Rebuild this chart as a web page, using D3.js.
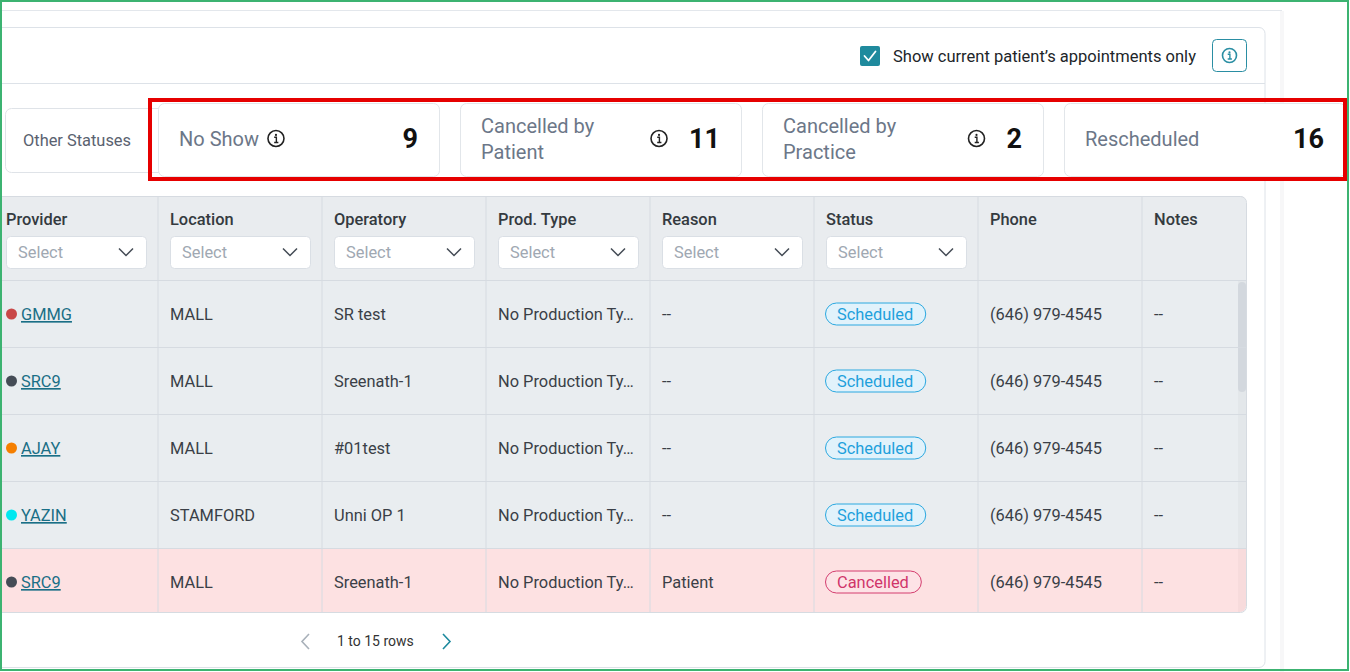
<!DOCTYPE html>
<html>
<head>
<meta charset="utf-8">
<script src="https://cdn.jsdelivr.net/npm/d3@7"></script>
<style>
  html, body { margin: 0; padding: 0; background: #fff; }
  svg { display: block; font-family: Roboto, "Noto Sans", sans-serif; }
</style>
</head>
<body>
<svg id="chart"></svg>
<script>
// status summary cards
const statusLabels = [["No Show"], ["Cancelled by", "Patient"], ["Cancelled by", "Practice"], ["Rescheduled"]];
const statusCounts = [9, 11, 2, 16];
const statusHasInfo = [true, true, true, false];

// table
const columns = ["Provider", "Location", "Operatory", "Prod. Type", "Reason", "Status", "Phone", "Notes"];
const hasFilter = [true, true, true, true, true, true, false, false];
const providers = ["GMMG", "SRC9", "AJAY", "YAZIN", "SRC9"];
const providerColors = ["#c94848", "#454c56", "#f57f00", "#00e8f0", "#454c56"];
const locations = ["MALL", "MALL", "MALL", "STAMFORD", "MALL"];
const operatories = ["SR test", "Sreenath-1", "#01test", "Unni OP 1", "Sreenath-1"];
const prodTypes = ["No Production Ty…", "No Production Ty…", "No Production Ty…", "No Production Ty…", "No Production Ty…"];
const reasons = ["--", "--", "--", "--", "Patient"];
const statuses = ["Scheduled", "Scheduled", "Scheduled", "Scheduled", "Cancelled"];
const phones = ["(646) 979-4545", "(646) 979-4545", "(646) 979-4545", "(646) 979-4545", "(646) 979-4545"];
const notes = ["--", "--", "--", "--", "--"];
const pageLabel = "1 to 15 rows";

const W = 1350, H = 672;
const svg = d3.select("#chart").attr("width", W).attr("height", H);

const teal = "#1f8a9d";
const lineCol = "#dde2e8";
const fs = 16.4;

// outer page frame
svg.append("line").attr("x1", 0).attr("x2", 1282).attr("y1", 10.5).attr("y2", 10.5).attr("stroke", "#e3e7ec");
svg.append("rect").attr("x", 1280).attr("y", 11).attr("width", 4).attr("height", H).attr("fill", "#f7f7f8");

// main panel
svg.append("rect").attr("x", -10).attr("y", 27.5).attr("width", 1275).attr("height", 640)
  .attr("rx", 6).attr("fill", "#fff").attr("stroke", lineCol);
svg.append("line").attr("x1", 0).attr("x2", 1265).attr("y1", 83.5).attr("y2", 83.5).attr("stroke", lineCol);

// checkbox + label
svg.append("rect").attr("x", 860).attr("y", 46).attr("width", 20).attr("height", 20).attr("rx", 2).attr("fill", teal);
svg.append("path").attr("d", "M864.5,56 L868.5,60.5 L875.5,51.5").attr("fill", "none")
  .attr("stroke", "#fff").attr("stroke-width", 1.8).attr("stroke-linecap", "round").attr("stroke-linejoin", "round");
svg.append("text").attr("x", 893).attr("y", 62).attr("font-size", fs + 0.1).attr("fill", "#212529")
  .text("Show current patient’s appointments only");

// info button
svg.append("rect").attr("x", 1212.5).attr("y", 39.5).attr("width", 34).attr("height", 32).attr("rx", 4)
  .attr("fill", "#fff").attr("stroke", "#2a8ea3");
function infoIcon(g, cx, cy, r, col) {
  g.append("circle").attr("cx", cx).attr("cy", cy).attr("r", r).attr("fill", "none")
    .attr("stroke", col).attr("stroke-width", 1.6);
  g.append("circle").attr("cx", cx).attr("cy", cy - r * 0.45).attr("r", 1.1).attr("fill", col);
  g.append("path").attr("d", `M${cx - 1.8},${cy - 1.2} L${cx + 0.4},${cy - 1.2} L${cx + 0.4},${cy + r * 0.5} M${cx - 1.8},${cy + r * 0.5} L${cx + 2.4},${cy + r * 0.5}`)
    .attr("fill", "none").attr("stroke", col).attr("stroke-width", 1.4);
}
infoIcon(svg, 1229.5, 55.5, 7, "#2a8ea3");

// "Other Statuses" card
svg.append("rect").attr("x", 5.5).attr("y", 108.5).attr("width", 160).attr("height", 64).attr("rx", 6)
  .attr("fill", "#fff").attr("stroke", "#dfe3e8");
svg.append("text").attr("x", 23).attr("y", 146).attr("font-size", fs).attr("fill", "#5a6270").text("Other Statuses");

// status cards
const cardX = d3.scaleBand().domain(d3.range(statusLabels.length)).range([158, 1345]).paddingInner(0.0695);
const cards = svg.selectAll("g.card").data(statusLabels).join("g").attr("class", "card")
  .attr("transform", (d, i) => `translate(${cardX(i)},0)`);
cards.append("rect").attr("x", 0.5).attr("y", 103.5).attr("width", cardX.bandwidth()).attr("height", 73)
  .attr("rx", 6).attr("fill", "#fff").attr("stroke", "#e2e6ea");
cards.each(function (lines, i) {
  const g = d3.select(this);
  const bw = cardX.bandwidth();
  const baseY = lines.length === 1 ? [146] : [133, 159];
  const lab = g.selectAll("text.lab").data(lines).join("text").attr("class", "lab")
    .attr("x", 21).attr("y", (d, j) => baseY[j]).attr("font-size", 20).attr("fill", "#6c7788").text(d => d);
  const num = g.append("text").attr("x", bw - 21).attr("y", 148).attr("text-anchor", "end")
    .attr("font-size", 27).attr("font-weight", 700).attr("fill", "#111").text(statusCounts[i]);
  if (statusHasInfo[i]) {
    let cx;
    if (lines.length === 1) cx = 21 + lab.node().getComputedTextLength() + 17;
    else cx = bw - 21 - num.node().getComputedTextLength() - 30;
    infoIcon(g, cx, 138.5, 8, "#222");
  }
});

// red highlight
svg.append("rect").attr("x", 150).attr("y", 100).attr("width", 1195).attr("height", 79)
  .attr("fill", "none").attr("stroke", "#e60000").attr("stroke-width", 4);

// table
const tTop = 196, tHead = 280, tBottom = 612, tRight = 1246;
const colX = d3.scaleBand().domain(columns).range([-6, -6 + 164 * columns.length]);
const rowY = d3.scaleBand().domain(d3.range(providers.length)).range([tHead, tHead + 67 * providers.length]);

const defs = svg.append("defs");
defs.append("clipPath").attr("id", "tclip").append("rect")
  .attr("x", -10).attr("y", tTop).attr("width", tRight + 10).attr("height", tBottom - tTop).attr("rx", 6);
const table = svg.append("g").attr("clip-path", "url(#tclip)");
table.append("rect").attr("x", -10).attr("y", tTop).attr("width", tRight + 10).attr("height", tBottom - tTop).attr("fill", "#e9ecef");

// row backgrounds
table.selectAll("rect.row").data(statuses).join("rect").attr("class", "row")
  .attr("x", -10).attr("y", (d, i) => rowY(i)).attr("width", tRight + 10).attr("height", rowY.bandwidth())
  .attr("fill", d => d === "Cancelled" ? "#fde1e2" : "#e9edf0");

// scrollbar
table.append("rect").attr("x", 1238).attr("y", tHead + 1).attr("width", 8).attr("height", tBottom - tHead)
  .attr("fill", "#000").attr("opacity", 0.025);
table.append("rect").attr("x", 1238).attr("y", 282).attr("width", 8).attr("height", 110).attr("rx", 4).attr("fill", "#d3d8de");

// grid lines
table.selectAll("line.vcol").data(columns.slice(1)).join("line").attr("class", "vcol")
  .attr("x1", d => colX(d)).attr("x2", d => colX(d)).attr("y1", tTop).attr("y2", tBottom)
  .attr("stroke", "#d6dbe1");
table.selectAll("line.hrow").data([tHead].concat(d3.range(providers.length).map(i => rowY(i) + rowY.bandwidth())))
  .join("line").attr("class", "hrow")
  .attr("x1", -10).attr("x2", tRight).attr("y1", d => d + 0.5).attr("y2", d => d + 0.5).attr("stroke", "#d6dbe1");

// header labels and filters
columns.forEach((c, i) => {
  const x = colX(c) + 12;
  table.append("text").attr("x", x).attr("y", 225).attr("font-size", fs).attr("font-weight", 500)
    .attr("fill", "#343a40").text(c);
  if (hasFilter[i]) {
    table.append("rect").attr("x", x + 0.5).attr("y", 236.5).attr("width", 140).attr("height", 32).attr("rx", 4)
      .attr("fill", "#fff").attr("stroke", "#dadfe5");
    table.append("text").attr("x", x + 12).attr("y", 258).attr("font-size", fs).attr("fill", "#a0a8b2").text("Select");
    const cx = x + 120, cy = 252;
    table.append("path").attr("d", `M${cx - 7},${cy - 3.5} L${cx},${cy + 3.5} L${cx + 7},${cy - 3.5}`)
      .attr("fill", "none").attr("stroke", "#454c56").attr("stroke-width", 1.5);
  }
});

// body cells
const cellCols = { Location: locations, Operatory: operatories, "Prod. Type": prodTypes, Reason: reasons, Phone: phones, Notes: notes };
providers.forEach((p, i) => {
  const cy = rowY(i) + rowY.bandwidth() / 2 + 0.5;
  table.append("circle").attr("cx", 11.5).attr("cy", cy).attr("r", 5.5).attr("fill", providerColors[i]);
  table.append("text").attr("x", 21).attr("y", cy + 6).attr("font-size", fs).attr("fill", "#1a6f86")
    .attr("text-decoration", "underline").text(p);
  Object.keys(cellCols).forEach(c => {
    table.append("text").attr("x", colX(c) + 12).attr("y", cy + 6).attr("font-size", fs)
      .attr("fill", "#3a3f47").text(cellCols[c][i]);
  });
  const s = statuses[i];
  const sc = s === "Cancelled" ? { stroke: "#d43d6e", fill: "#fde3e6", text: "#d0356a" }
                               : { stroke: "#2aa8e0", fill: "#e1f2fb", text: "#1ea0dc" };
  const px = colX("Status") + 11;
  const t = table.append("text").attr("x", px + 12).attr("y", cy + 5.5).attr("font-size", fs).attr("fill", sc.text).text(s);
  const tw = t.node().getComputedTextLength();
  table.insert("rect", () => t.node()).attr("x", px + 0.5).attr("y", cy - 11).attr("width", tw + 24).attr("height", 22)
    .attr("rx", 11).attr("fill", sc.fill).attr("stroke", sc.stroke);
});

svg.append("rect").attr("x", -10).attr("y", tTop + 0.5).attr("width", tRight + 10.5).attr("height", tBottom - tTop)
  .attr("rx", 6).attr("fill", "none").attr("stroke", "#d6dbe1");

// pagination
svg.append("path").attr("d", "M309,634 L302,641.5 L309,649").attr("fill", "none").attr("stroke", "#a9b1ba").attr("stroke-width", 1.6);
svg.append("text").attr("x", 337).attr("y", 646).attr("font-size", 14).attr("fill", "#333").text(pageLabel);
svg.append("path").attr("d", "M443,634 L450,641.5 L443,649").attr("fill", "none").attr("stroke", "#1d8a9e").attr("stroke-width", 1.6);

// green frame
svg.append("rect").attr("x", 1).attr("y", 1).attr("width", 1347).attr("height", 669)
  .attr("fill", "none").attr("stroke", "#3cb371").attr("stroke-width", 2);
</script>
</body>
</html>
